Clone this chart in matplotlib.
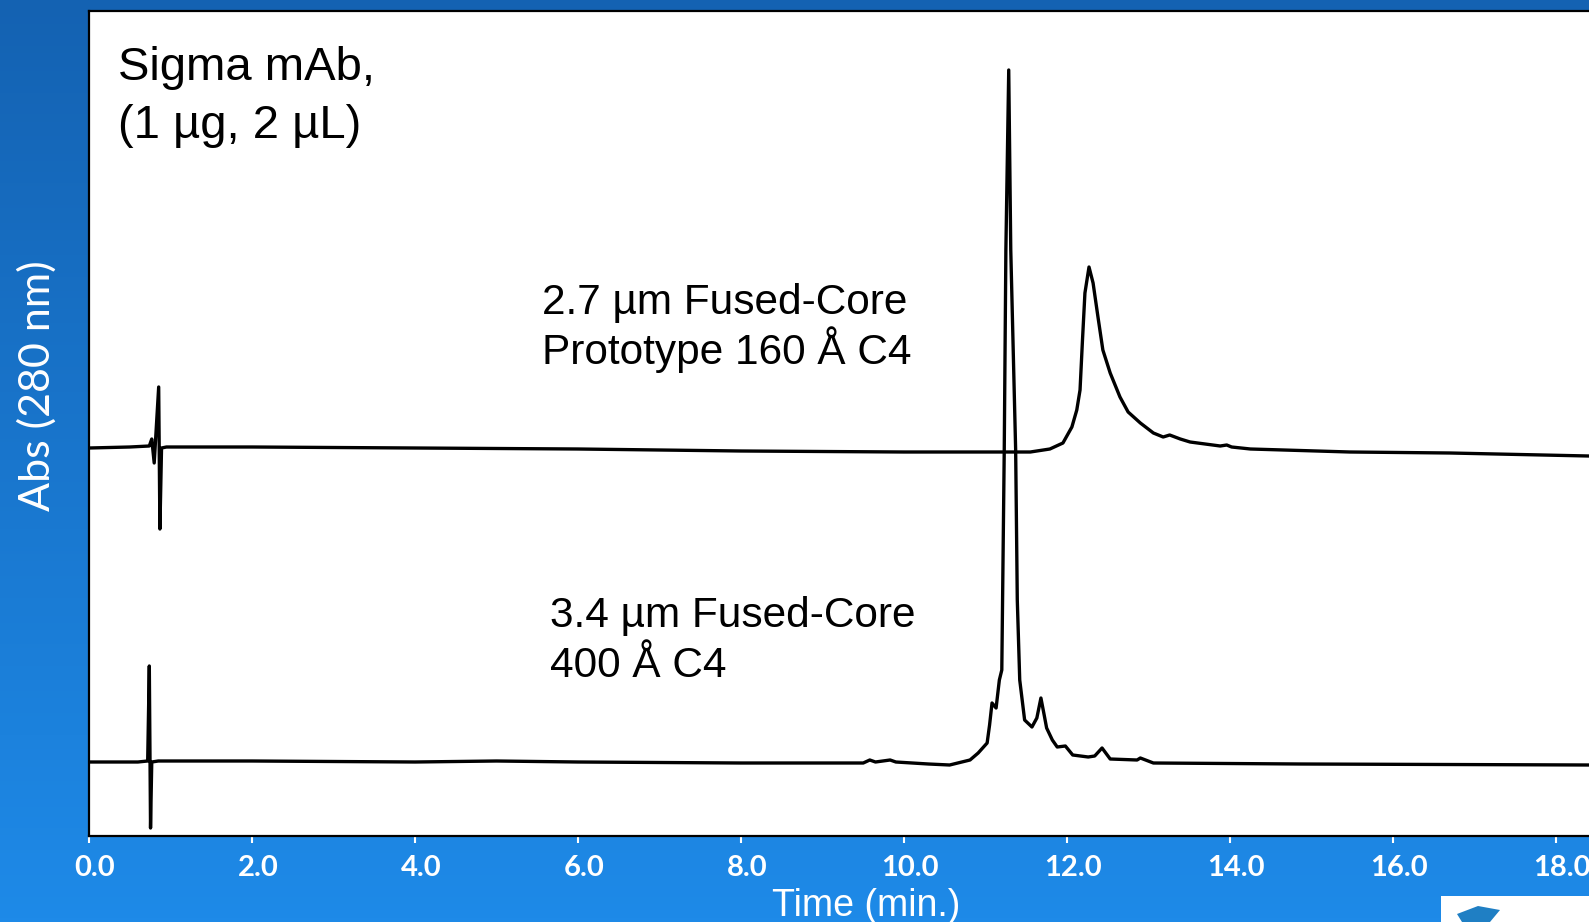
import numpy as np
import matplotlib
matplotlib.use('Agg')
import matplotlib.pyplot as plt
import matplotlib.transforms as mtransforms
from matplotlib.patches import Rectangle, Polygon

# Chromatogram data (time in min, signal relative to each trace's own baseline)
# 3.4 um Fused-Core 400 A C4
time_34 = [0.0, 0.6, 0.72, 0.74, 0.755, 0.77, 0.85, 2.0, 4.0, 5.0, 6.0, 8.0, 9.5, 9.58, 9.65,
           9.83, 9.9, 10.3, 10.56, 10.81, 10.91, 11.02, 11.05, 11.08, 11.13, 11.17, 11.20,
           11.23, 11.25, 11.285, 11.31, 11.37, 11.39, 11.42, 11.48, 11.57, 11.63, 11.68,
           11.72, 11.75, 11.82, 11.88, 11.98, 12.07, 12.26, 12.34, 12.43, 12.53, 12.86,
           12.9, 13.06, 14.86, 18.4]
signal_34 = [0, 0, 1, 96, -66, 0, 1, 1, 0, 1, 0, -1, -1, 2, 0,
             2, 0, -2, -3, 2, 9, 19, 37, 59, 54, 82, 92,
             312, 512, 692, 512, 312, 162, 82, 42, 35, 44, 64,
             47, 34, 22, 15, 16, 7, 5, 6, 14, 3, 2,
             4, -1, -2, -3]

# 2.7 um Fused-Core Prototype 160 A C4
time_27 = [0.0, 0.5, 0.74, 0.77, 0.80, 0.855, 0.87, 0.89, 0.95, 2.0, 4.0, 6.0, 8.0, 10.0,
           11.0, 11.55, 11.79, 11.95, 12.06, 12.12, 12.16, 12.19, 12.22, 12.27, 12.32,
           12.38, 12.44, 12.53, 12.65, 12.75, 12.90, 13.06, 13.18, 13.26, 13.39, 13.51,
           13.88, 13.96, 14.02, 14.25, 15.47, 16.70, 18.4]
signal_27 = [0, 1, 2, 9, -15, 61, -81, 0, 1, 1, 0, -1, -3, -4,
             -4, -4, -1, 5, 21, 38, 58, 108, 155, 181, 165,
             131, 98, 75, 51, 36, 25, 15, 11, 13, 9, 6,
             2, 3, 1, -1, -4, -5, -8]

# vertical offsets used to stack the two traces
offset_34 = 74
offset_27 = 388

xticks = [0, 2, 4, 6, 8, 10, 12, 14, 16, 18]
xtick_labels = ['0.0', '2.0', '4.0', '6.0', '8.0', '10.0', '12.0', '14.0', '16.0', '18.0']

W, H = 1589, 922
fig = plt.figure(figsize=(W / 100, H / 100), dpi=100)

# blue gradient slide background
bg = fig.add_axes([0, 0, 1, 1], zorder=0)
top_col = np.array([0x14, 0x62, 0xB2]) / 255
bot_col = np.array([0x1E, 0x8A, 0xE8]) / 255
grad = np.linspace(0, 1, 256)[:, None]
img = top_col[None, None, :] * (1 - grad[:, :, None]) + bot_col[None, None, :] * grad[:, :, None]
bg.imshow(np.repeat(img, 2, axis=1), aspect='auto', extent=[0, 1, 0, 1])
bg.axis('off')

# plot area
ax = fig.add_axes([89 / W, 86 / H, 1 - 89 / W, (836 - 11.5) / H], zorder=2)
ax.set_facecolor('white')
ax.plot(time_27, np.array(signal_27) + offset_27, color='black', lw=2.4, solid_joinstyle='round')
ax.plot(time_34, np.array(signal_34) + offset_34, color='black', lw=2.4, solid_joinstyle='round')
ax.set_xlim(0, (W - 89) / 81.5)
ax.set_ylim(0, 824.5)

for s in ['left', 'bottom', 'top']:
    ax.spines[s].set_color('black')
    ax.spines[s].set_linewidth(1.6)
ax.spines['right'].set_visible(False)

ax.set_yticks([])
ax.set_xticks(xticks)
ax.set_xticklabels(xtick_labels, fontfamily='Lato', fontweight='bold', fontsize=21, color='white')
ax.tick_params(axis='x', direction='out', length=5, width=1.5, color='white', pad=9)
shift = mtransforms.ScaledTranslation(6 / 100, 0, fig.dpi_scale_trans)
for lab in ax.get_xticklabels():
    lab.set_transform(lab.get_transform() + shift)

# annotations
def px_text(x, y, s, **kw):
    fig.text(x / W, (H - y) / H, s, va='baseline', ha='left', zorder=5, **kw)

black_font = dict(family='Liberation Sans', color='black')
px_text(118, 80, 'Sigma mAb,', fontsize=34, **black_font)
px_text(118, 138, '(1 µg, 2 µL)', fontsize=34, **black_font)
px_text(542, 314, '2.7 µm Fused-Core', fontsize=30.5, **black_font)
px_text(542, 364, 'Prototype 160 Å C4', fontsize=30.5, **black_font)
px_text(550, 627, '3.4 µm Fused-Core', fontsize=30.5, **black_font)
px_text(550, 677, '400 Å C4', fontsize=30.5, **black_font)

fig.text(866 / W, (H - 916) / H, 'Time (min.)', ha='center', va='baseline',
         family='Liberation Sans', fontsize=27, color='white')
fig.text(37 / W, (H - 386) / H, 'Abs (280 nm)', ha='center', va='center', rotation=90,
         family='Lato', fontsize=31, color='white')

# partial logo box in the bottom right corner
fig.patches.append(Rectangle((1441 / W, 0), (W - 1441) / W, 26 / H, transform=fig.transFigure,
                             facecolor='white', edgecolor='none', zorder=3))
fig.patches.append(Polygon([(1457 / W, 8 / H), (1478 / W, 16 / H), (1500 / W, 12 / H),
                            (1490 / W, 0), (1462 / W, 0)], closed=True, transform=fig.transFigure,
                           facecolor='#1f7fc4', edgecolor='none', zorder=4))

fig.savefig('out.png', dpi=100)
